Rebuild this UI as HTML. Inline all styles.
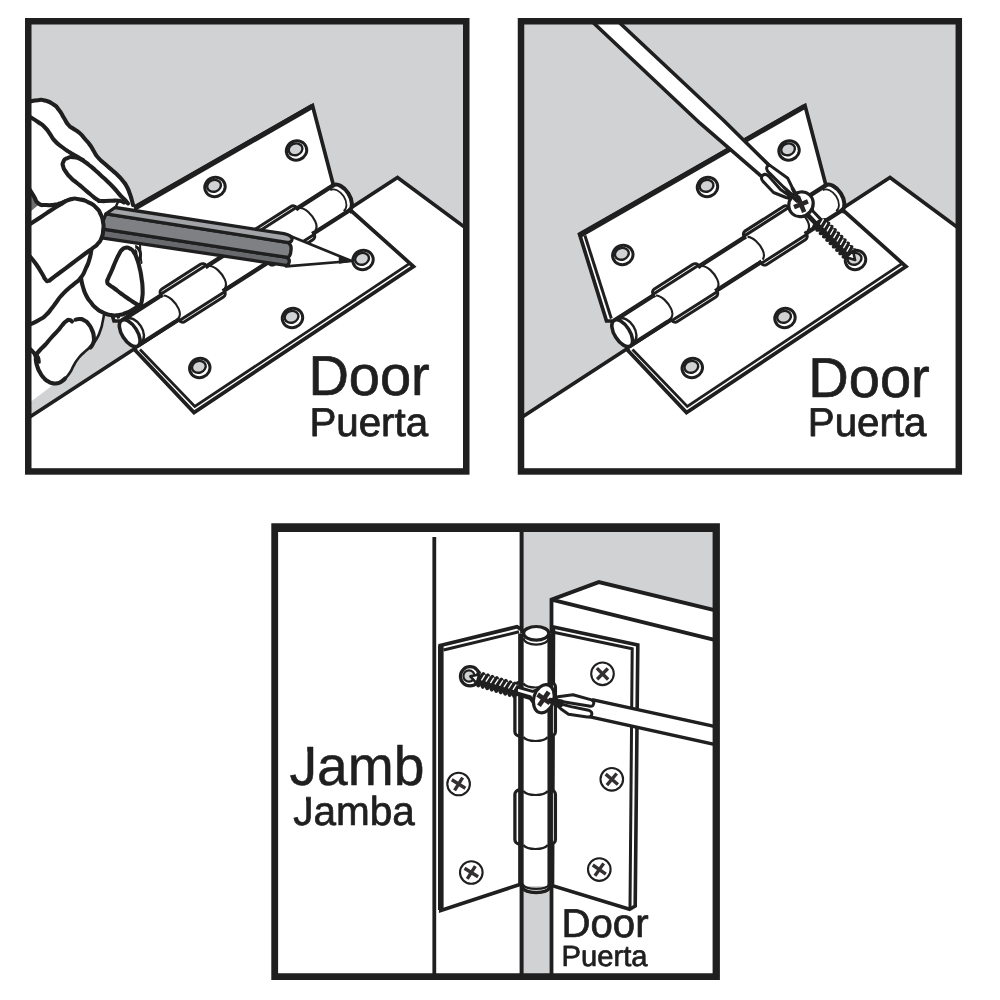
<!DOCTYPE html>
<html lang="en">
<head>
<meta charset="utf-8">
<title>Hinge installation</title>
<style>
html,body{margin:0;padding:0;background:#fff;}
body{width:1000px;height:1000px;overflow:hidden;}
svg{display:block;will-change:transform;}
text{font-family:"Liberation Sans",sans-serif;text-rendering:geometricPrecision;}
</style>
</head>
<body>
<svg width="1000" height="1000" viewBox="0 0 1000 1000">
<rect width="1000" height="1000" fill="#fff"/>
<clipPath id="c1"><rect x="28" y="21" width="438.5" height="450.5"/></clipPath>
<g clip-path="url(#c1)">
<rect x="25" y="18" width="445" height="457" fill="#d1d2d4"/>
<path d="M27.5 418.5 L397.5 177.5 L466.5 228.5 L466.5 472 L27.5 472Z" fill="#fff" stroke="#1f1f20" stroke-width="3.6" stroke-linejoin="miter"/>
<path d="M87 234 L312.5 105.5 L333.5 185.5 L332 187.5 L121 322.5 L114 321Z" fill="#fff"/>
<path d="M123.5 321 L114 321 L87 234 L312.5 105.5 L333.5 185.5 L332.5 187.5" fill="none" stroke="#1f1f20" stroke-width="3.7" stroke-linejoin="miter"/>
<path d="M88 235 L312 106.5" fill="none" stroke="#1f1f20" stroke-width="5"/>
<path d="M92.4 235.5 L118.8 318.5" fill="none" stroke="#1f1f20" stroke-width="3"/>
<path d="M135 350 L194 412.5 L413.5 266.5 L351.5 211Z" fill="#fff"/>
<path d="M136.5 348.5 L135 350 L194 412.5 L413.5 266.5 L351.5 211 L349.5 212" fill="none" stroke="#1f1f20" stroke-width="3.7" stroke-linejoin="miter"/>
<path d="M140 349.5 L194.8 406.5 L409 263.9" fill="none" stroke="#1f1f20" stroke-width="2.8"/>
<ellipse cx="130.3" cy="255" rx="10.3" ry="9.6" fill="#fff" stroke="#1f1f20" stroke-width="3" transform="rotate(-20 130.3 255)"/><ellipse cx="129.8" cy="253.6" rx="7" ry="5.8" fill="#d1d2d4" stroke="#1f1f20" stroke-width="2.4" transform="rotate(-20 130.3 255)"/>
<ellipse cx="215" cy="187" rx="10.3" ry="9.6" fill="#fff" stroke="#1f1f20" stroke-width="3" transform="rotate(-20 215 187)"/><ellipse cx="214.5" cy="185.6" rx="7" ry="5.8" fill="#d1d2d4" stroke="#1f1f20" stroke-width="2.4" transform="rotate(-20 215 187)"/>
<ellipse cx="296.5" cy="150.5" rx="10.3" ry="9.6" fill="#fff" stroke="#1f1f20" stroke-width="3" transform="rotate(-20 296.5 150.5)"/><ellipse cx="296" cy="149.1" rx="7" ry="5.8" fill="#d1d2d4" stroke="#1f1f20" stroke-width="2.4" transform="rotate(-20 296.5 150.5)"/>
<ellipse cx="199.8" cy="368" rx="10.3" ry="9.6" fill="#fff" stroke="#1f1f20" stroke-width="3" transform="rotate(-20 199.8 368)"/><ellipse cx="199.3" cy="366.6" rx="7" ry="5.8" fill="#d1d2d4" stroke="#1f1f20" stroke-width="2.4" transform="rotate(-20 199.8 368)"/>
<ellipse cx="292.5" cy="318" rx="10.3" ry="9.6" fill="#fff" stroke="#1f1f20" stroke-width="3" transform="rotate(-20 292.5 318)"/><ellipse cx="292" cy="316.6" rx="7" ry="5.8" fill="#d1d2d4" stroke="#1f1f20" stroke-width="2.4" transform="rotate(-20 292.5 318)"/>
<ellipse cx="363" cy="260" rx="10.3" ry="9.6" fill="#fff" stroke="#1f1f20" stroke-width="3" transform="rotate(-20 363 260)"/><ellipse cx="362.5" cy="258.6" rx="7" ry="5.8" fill="#d1d2d4" stroke="#1f1f20" stroke-width="2.4" transform="rotate(-20 363 260)"/>
<g transform="translate(129.7 333.2) rotate(-32.6)">
<path d="M0 -14.9 L252 -14.9 A8 14.9 0 0 1 252 14.9 L0 14.9 Z" fill="#fff" stroke="none"/>
<path d="M0 -14.9 L252 -14.9 M0 14.9 L252 14.9" fill="none" stroke="#1f1f20" stroke-width="4.4"/>
<rect x="46.9" y="-19.9" width="53.800000000000004" height="30" rx="4" ry="4" fill="#fff" stroke="#1f1f20" stroke-width="3"/>
<rect x="48.7" y="-10.1" width="53.8" height="30" rx="4" ry="4" fill="#fff" stroke="#1f1f20" stroke-width="3"/>
<rect x="44.4" y="-12.6" width="60.6" height="25.2" fill="#fff"/>
<rect x="48.6" y="-14.7" width="50.400000000000006" height="14.7" fill="#fff"/>
<rect x="50.400000000000006" y="0" width="50.4" height="14.7" fill="#fff"/>
<path d="M48.4 -16.15 L99.2 -16.15 M50.2 16.15 L101 16.15" fill="none" stroke="#1f1f20" stroke-width="3" stroke-linecap="round"/>
<rect x="154.8" y="-19.9" width="53.29999999999998" height="30" rx="4" ry="4" fill="#fff" stroke="#1f1f20" stroke-width="3"/>
<rect x="154.8" y="-10.1" width="53.89999999999998" height="30" rx="4" ry="4" fill="#fff" stroke="#1f1f20" stroke-width="3"/>
<rect x="152.3" y="-12.6" width="58.89999999999998" height="25.2" fill="#fff"/>
<rect x="156.5" y="-14.7" width="49.899999999999984" height="14.7" fill="#fff"/>
<rect x="156.5" y="0" width="50.49999999999998" height="14.7" fill="#fff"/>
<path d="M156.3 -16.15 L206.6 -16.15 M156.3 16.15 L207.2 16.15" fill="none" stroke="#1f1f20" stroke-width="3" stroke-linecap="round"/>
<path d="M48.8 -13.6 C53.3 -10.6 55.3 -1.5999999999999996 54.4 5.6 C53.8 10.6 51.8 12.6 49.3 13.6" fill="none" stroke="#1f1f20" stroke-width="2.1"/>
<path d="M103.5 -13.6 C108.0 -10.6 110.0 -1.5999999999999996 109.1 5.6 C108.5 10.6 106.5 12.6 104.0 13.6" fill="none" stroke="#1f1f20" stroke-width="2.1"/>
<path d="M157.5 -13.6 C162.0 -10.6 164.0 -1.5999999999999996 163.1 5.6 C162.5 10.6 160.5 12.6 158.0 13.6" fill="none" stroke="#1f1f20" stroke-width="2.1"/>
<path d="M211 -13.6 C215.5 -10.6 217.5 -1.5999999999999996 216.6 5.6 C216 10.6 214 12.6 211.5 13.6" fill="none" stroke="#1f1f20" stroke-width="2.1"/>
<path d="M251 -14.9 A8.5 14.9 0 0 1 251 14.9" fill="none" stroke="#1f1f20" stroke-width="4"/>
<path d="M246 -12.4 A8 12.4 0 0 1 246 12.4" fill="none" stroke="#1f1f20" stroke-width="1.8"/>
<path d="M5.2 -13.4 A8 13.4 0 0 1 5.2 13.4" fill="none" stroke="#1f1f20" stroke-width="2.4"/>
<ellipse cx="0" cy="0" rx="7.6" ry="15.1" fill="#fff" stroke="#1f1f20" stroke-width="3.6"/>
</g>
<path d="M30 101.6 L38 100.2 L45 100.6 L53.5 104.5 L59 110 L64 118 L68.5 125 L73 128.5 L79 132.5 L85 139 L90 145 L94 151.5 L98 157.5 L105 164 L112.5 170.5 L118 175.5 L123 181 L127 187 L129.5 193 L131.5 199 L133 205 L136 215 L135 254 L140 268 L142.6 288 L142 303 L134.5 309.5 L124 314 L111 315.3 L104.5 314 L102.5 322 L100 331 L96 340 L90 347 L84.5 352 L79 357.5 L74 365 L70 372.5 L64 380 L56 383.5 L50 386.5 L30 401.5 L30 101.6Z" fill="#fff"/>
<path d="M30 193 L39.5 204 L30 212Z" fill="#6d6e70"/>
<path d="M30 101.6 C32.67 101.13 33 100.53 38 100.2 C43 99.87 39.83 99.17 45 100.6 C50.17 102.03 48.83 101.37 53.5 104.5 C58.17 107.63 55.5 105.5 59 110 C62.5 114.5 60.83 113 64 118 C67.17 123 65.5 121.5 68.5 125 C71.5 128.5 69.5 126 73 128.5 C76.5 131 75 129 79 132.5 C83 136 81.33 134.83 85 139 C88.67 143.17 87 140.83 90 145 C93 149.17 91.33 147.33 94 151.5 C96.67 155.67 94.33 153.33 98 157.5 C101.67 161.67 100.17 159.67 105 164 C109.83 168.33 108.17 166.67 112.5 170.5 C116.83 174.33 114.5 172 118 175.5 C121.5 179 120 177.17 123 181 C126 184.83 124.83 183 127 187 C129.17 191 128 189 129.5 193 C131 197 130.33 195 131.5 199 C132.67 203 132.5 203 133 205" fill="none" stroke="#1f1f20" stroke-width="4.1" stroke-linecap="round" stroke-linejoin="round"/>
<path d="M30 117 C32.67 118.67 33 118.5 38 122 C43 125.5 41 123.5 45 127.5 C49 131.5 46.83 129.67 50 134 C53.17 138.33 50.5 136.17 54.5 140.5 C58.5 144.83 56.83 143 62 147 C67.17 151 65.33 149.5 70 152.5 C74.67 155.5 71.67 153.33 76 156 C80.33 158.67 78.67 157.5 83 160.5 C87.33 163.5 85 161.83 89 165 C93 168.17 91 166.5 95 170 C99 173.5 96.83 171.67 101 175.5 C105.17 179.33 103.17 177.33 107.5 181.5 C111.83 185.67 109.83 183.5 114 188 C118.17 192.5 116.67 191.33 120 195 C123.33 198.67 121.33 196.17 124 199 C126.67 201.83 126.67 202 128 203.5" fill="none" stroke="#1f1f20" stroke-width="4.1" stroke-linecap="round" stroke-linejoin="round"/>
<path d="M83 160 C80 159.1 79.33 157.87 74 157.3 C68.67 156.73 70.57 156.73 67 158.3 C63.43 159.87 64.57 159.27 63.3 162 C62.03 164.73 62.3 163.17 63.2 166.5 C64.1 169.83 63.4 168.17 66 172 C68.6 175.83 67.33 174.33 71 178 C74.67 181.67 73 179.67 77 183 C81 186.33 78.67 184.33 83 188 C87.33 191.67 85.33 190.17 90 194 C94.67 197.83 93.33 197.17 97 199.5 C100.67 201.83 96.67 200.57 101 201 C105.33 201.43 104 200.87 110 200.8 C116 200.73 114.33 200.23 119 200.8 C123.67 201.37 122.33 201.93 124 202.5" fill="none" stroke="#1f1f20" stroke-width="4.1" stroke-linecap="round" stroke-linejoin="round"/>
<path d="M118.5 201.5 C117.93 202.5 117.8 202.17 116.8 204.5 C115.8 206.83 115.93 207.17 115.5 208.5" fill="none" stroke="#1f1f20" stroke-width="2.4" stroke-linecap="round"/>
<path d="M30 190 C31.33 192.17 31.17 192 34 196.5 C36.83 201 34.5 200.67 38.5 203.5 C42.5 206.33 40.83 204.57 46 205 C51.17 205.43 49.33 205.3 54 204.8 C58.67 204.3 56.33 204.67 60 203.5 C63.67 202.33 61.67 202.7 65 201.3 C68.33 199.9 68.33 199.97 70 199.3" fill="none" stroke="#1f1f20" stroke-width="4.1" stroke-linecap="round"/>
<path d="M91.5 249 C90.83 252.33 91.33 252.67 89.5 259 C87.67 265.33 88.83 261.83 86 268 C83.17 274.17 85 272.17 81 277.5 C77 282.83 78.5 280 74 284 C69.5 288 71.83 285.5 67.5 289.5 C63.17 293.5 64.67 291.83 61 296 C57.33 300.17 59.5 298 56.5 302 C53.5 306 55.5 303.67 52 308 C48.5 312.33 50.33 311 46 315 C41.67 319 44.33 316.83 39 320 C33.67 323.17 33 323 30 324.5" fill="none" stroke="#1f1f20" stroke-width="4.1" stroke-linecap="round"/>
<path d="M81 278 C81.67 281 81.17 281 83 287 C84.83 293 83.83 290.83 86.5 296 C89.17 301.17 87.83 298.5 91 302.5 C94.17 306.5 92 304.67 96 308 C100 311.33 98 310.17 103 312.5 C108 314.83 105.67 314.17 111 315 C116.33 315.83 114 315.67 119 315 C124 314.33 121.33 314.83 126 313 C130.67 311.17 128.67 312 133 309.5 C137.33 307 137 306.83 139 305.5" fill="none" stroke="#1f1f20" stroke-width="4.1" stroke-linecap="round"/>
<path d="M104 314.5 C103.53 317 103.77 316.83 102.6 322 C101.43 327.17 102.53 324.33 100.5 330 C98.47 335.67 99.67 333.67 96.5 339 C93.33 344.33 95 341.67 91 346 C87 350.33 88.5 348.17 84.5 352 C80.5 355.83 82.5 353.17 79 357.5 C75.5 361.83 77 360 74 365 C71 370 73.17 367.67 70 372.5 C66.83 377.33 66.33 377.17 64.5 379.5" fill="none" stroke="#1f1f20" stroke-width="2.6" stroke-linecap="round"/>
<path d="M35.5 355.5 C37 353.67 36.83 353.5 40 350 C43.17 346.5 41.33 349 45 345 C48.67 341 46.83 342.67 51 338 C55.17 333.33 53.83 335.17 57.5 331 C61.17 326.83 59.17 328.73 62 325.5 C64.83 322.27 63.5 323.13 66 321.3 C68.5 319.47 67.5 319.93 69.5 320 C71.5 320.07 71.17 321 72 321.5" fill="none" stroke="#1f1f20" stroke-width="4.1" stroke-linecap="round"/>
<path d="M75.5 319.8 C77 319.53 77 318.77 80 319 C83 319.23 81.67 318.83 84.5 320.5 C87.33 322.17 86 320.83 88.5 324 C91 327.17 90.23 325.67 92 330 C93.77 334.33 93.4 332.67 93.8 337 C94.2 341.33 94.3 339.5 93.2 343 C92.1 346.5 91.4 346 90.5 347.5" fill="none" stroke="#1f1f20" stroke-width="4.1" stroke-linecap="round"/>
<path d="M30 349 C31 350 31.17 349.83 33 352 C34.83 354.17 34.5 352.5 35.5 355.5 C36.5 358.5 35.33 357.17 36 361 C36.67 364.83 36.17 363.17 37.5 367 C38.83 370.83 38 369 40 372.5 C42 376 41 374.67 43.5 377.5 C46 380.33 44.67 379.17 47.5 381 C50.33 382.83 48.83 382.23 52 383 C55.17 383.77 53.83 383.8 57 383.3 C60.17 382.8 58.83 383.1 61.5 381.5 C64.17 379.9 63.83 379.5 65 378.5" fill="none" stroke="#1f1f20" stroke-width="4.1" stroke-linecap="round"/>
<path d="M35.5 355.5 C36.33 356 36.83 354.83 38 357 C39.17 359.17 38.67 360.33 39 362" fill="none" stroke="#1f1f20" stroke-width="3.6" stroke-linecap="round"/>
<path d="M30 401.5 L50 386.5" fill="none" stroke="#fff" stroke-width="1.2"/>
<path d="M139 305.5 C137.33 304.5 137.67 304.83 134 302.5 C130.33 300.17 132.33 301.5 128 298.5 C123.67 295.5 125.5 296.83 121 293.5 C116.5 290.17 118.33 291.33 114.5 288.5 C110.67 285.67 111.9 287.17 109.5 285 C107.1 282.83 107.6 284.5 107.3 282 C107 279.5 107.03 281.5 108.6 277.5 C110.17 273.5 109.7 275.33 112 270 C114.3 264.67 113.17 266.77 115.5 261.5 C117.83 256.23 116.83 258.1 119 254.2 C121.17 250.3 119.83 251.93 122 249.8 C124.17 247.67 122.83 248.2 125.5 247.8 C128.17 247.4 127.17 247.03 130 248.6 C132.83 250.17 131.67 249.03 134 252.5 C136.33 255.97 135.17 254 137 259 C138.83 264 138 261.17 139.5 267.5 C141 273.83 140.47 270.83 141.5 278 C142.53 285.17 142.37 282.33 142.6 289 C142.83 295.67 142.73 292.83 142.2 298 C141.67 303.17 141.4 302.33 141 304.5" fill="#fff" stroke="#1f1f20" stroke-width="4.1" stroke-linecap="round" stroke-linejoin="round"/>
<path d="M139.5 239 C139.73 242 139.83 242.33 140.2 248 C140.57 253.67 140.17 251 140.6 256 C141.03 261 141.2 260.67 141.5 263" fill="none" stroke="#1f1f20" stroke-width="2" stroke-linecap="round"/>
<path d="M289 235.5 L351.5 261 L286 266.4 Z" fill="#fff" stroke="#1f1f20" stroke-width="2.7" stroke-linejoin="round"/>
<path d="M339.5 256.6 L352 261 L339.5 263 Z" fill="#1f1f20" stroke="#1f1f20" stroke-width="1.5" stroke-linejoin="round"/>
<path d="M100 228.7 L286 257.2 Q289.9 258.6 289.2 262 Q288.6 265.2 286 265.3 L105 238.4 L97 237.2 Z" fill="#68696c" stroke="#1f1f20" stroke-width="3.3" stroke-linejoin="round"/>
<path d="M106 213.8 L287 242.3 Q291.9 244.4 291 250 Q290.6 255 289.2 256.4 Q288 257.5 286 257.2 L100 228.7 Z" fill="#7f8083" stroke="#1f1f20" stroke-width="3.3" stroke-linejoin="round"/>
<path d="M115 207.5 L284 233.7 Q292.6 235.6 292 239.6 Q291.2 242.9 287 242.3 L106 213.8 Z" fill="#a3a4a7" stroke="#1f1f20" stroke-width="3.3" stroke-linejoin="round"/>
<path d="M30 224 C33.67 221.67 34 221.57 41 217 C48 212.43 44.67 214.43 51 210.3 C57.33 206.17 53.67 208.17 60 204.6 C66.33 201.03 63.67 201.37 70 199.6 C76.33 197.83 72.83 198.4 79 199.3 C85.17 200.2 82.83 199.57 88.5 202.3 C94.17 205.03 92 203.6 96 207.5 C100 211.4 98.17 209.17 100.5 214 C102.83 218.83 102.1 216.67 103 222 C103.9 227.33 103.7 224.67 103.2 230 C102.7 235.33 103.23 233.5 101.5 238 C99.77 242.5 100.67 240.33 98 243.5 C95.33 246.67 98.17 243.83 93.5 247.5 C88.83 251.17 91.17 249.17 84 254.5 C76.83 259.83 80 257.5 72 263.5 C64 269.5 66.67 267.5 60 272.5 C53.33 277.5 55.83 275.73 52 278.5 C48.17 281.27 50.67 280.47 48.5 280.8 C46.33 281.13 47.67 281.93 45.5 279.5 C43.33 277.07 45.17 278.67 42 273.5 C38.83 268.33 40 269.67 36 264 C32 258.33 32 259 30 256.5" fill="#fff" stroke="#1f1f20" stroke-width="4.1" stroke-linecap="round" stroke-linejoin="round"/>
</g>
<text x="308.4" y="395.1" font-size="56" fill="#1f1f20" stroke="#1f1f20" stroke-width="0.7" stroke-linejoin="round" text-anchor="start" >Door</text>
<text x="309.4" y="436.1" font-size="40.3" fill="#1f1f20" stroke="#1f1f20" stroke-width="0.8" stroke-linejoin="round" text-anchor="start" >Puerta</text>
<rect x="28.25" y="21.25" width="438" height="450.2" fill="none" stroke="#1f1f20" stroke-width="6.5"/>
<clipPath id="c2"><rect x="520.5" y="21" width="438.5" height="450.5"/></clipPath>
<g clip-path="url(#c2)">
<rect x="517" y="18" width="445" height="457" fill="#d1d2d4"/>
<path d="M520 418.5 L890 177.5 L959 228.5 L959 472 L520 472Z" fill="#fff" stroke="#1f1f20" stroke-width="3.6" stroke-linejoin="miter"/>
<path d="M579.5 234 L805 105.5 L826 185.5 L824.5 187.5 L613.5 322.5 L606.5 321Z" fill="#fff"/>
<path d="M616 321 L606.5 321 L579.5 234 L805 105.5 L826 185.5 L825 187.5" fill="none" stroke="#1f1f20" stroke-width="3.7" stroke-linejoin="miter"/>
<path d="M580.5 235 L804.5 106.5" fill="none" stroke="#1f1f20" stroke-width="5"/>
<path d="M584.9 235.5 L611.3 318.5" fill="none" stroke="#1f1f20" stroke-width="3"/>
<path d="M627.5 350 L686.5 412.5 L906 266.5 L844 211Z" fill="#fff"/>
<path d="M629 348.5 L627.5 350 L686.5 412.5 L906 266.5 L844 211 L842 212" fill="none" stroke="#1f1f20" stroke-width="3.7" stroke-linejoin="miter"/>
<path d="M632.5 349.5 L687.3 406.5 L901.5 263.9" fill="none" stroke="#1f1f20" stroke-width="2.8"/>
<ellipse cx="622.8" cy="255" rx="10.3" ry="9.6" fill="#fff" stroke="#1f1f20" stroke-width="3" transform="rotate(-20 622.8 255)"/><ellipse cx="622.3" cy="253.6" rx="7" ry="5.8" fill="#d1d2d4" stroke="#1f1f20" stroke-width="2.4" transform="rotate(-20 622.8 255)"/>
<ellipse cx="707.5" cy="187" rx="10.3" ry="9.6" fill="#fff" stroke="#1f1f20" stroke-width="3" transform="rotate(-20 707.5 187)"/><ellipse cx="707" cy="185.6" rx="7" ry="5.8" fill="#d1d2d4" stroke="#1f1f20" stroke-width="2.4" transform="rotate(-20 707.5 187)"/>
<ellipse cx="789" cy="150.5" rx="10.3" ry="9.6" fill="#fff" stroke="#1f1f20" stroke-width="3" transform="rotate(-20 789 150.5)"/><ellipse cx="788.5" cy="149.1" rx="7" ry="5.8" fill="#d1d2d4" stroke="#1f1f20" stroke-width="2.4" transform="rotate(-20 789 150.5)"/>
<ellipse cx="692.3" cy="368" rx="10.3" ry="9.6" fill="#fff" stroke="#1f1f20" stroke-width="3" transform="rotate(-20 692.3 368)"/><ellipse cx="691.8" cy="366.6" rx="7" ry="5.8" fill="#d1d2d4" stroke="#1f1f20" stroke-width="2.4" transform="rotate(-20 692.3 368)"/>
<ellipse cx="785" cy="318" rx="10.3" ry="9.6" fill="#fff" stroke="#1f1f20" stroke-width="3" transform="rotate(-20 785 318)"/><ellipse cx="784.5" cy="316.6" rx="7" ry="5.8" fill="#d1d2d4" stroke="#1f1f20" stroke-width="2.4" transform="rotate(-20 785 318)"/>
<ellipse cx="855.5" cy="260" rx="10.3" ry="9.6" fill="#fff" stroke="#1f1f20" stroke-width="3" transform="rotate(-20 855.5 260)"/><ellipse cx="855" cy="258.6" rx="7" ry="5.8" fill="#d1d2d4" stroke="#1f1f20" stroke-width="2.4" transform="rotate(-20 855.5 260)"/>
<g transform="translate(622.2 333.2) rotate(-32.6)">
<path d="M0 -14.9 L252 -14.9 A8 14.9 0 0 1 252 14.9 L0 14.9 Z" fill="#fff" stroke="none"/>
<path d="M0 -14.9 L252 -14.9 M0 14.9 L252 14.9" fill="none" stroke="#1f1f20" stroke-width="4.4"/>
<rect x="46.9" y="-19.9" width="53.800000000000004" height="30" rx="4" ry="4" fill="#fff" stroke="#1f1f20" stroke-width="3"/>
<rect x="48.7" y="-10.1" width="53.8" height="30" rx="4" ry="4" fill="#fff" stroke="#1f1f20" stroke-width="3"/>
<rect x="44.4" y="-12.6" width="60.6" height="25.2" fill="#fff"/>
<rect x="48.6" y="-14.7" width="50.400000000000006" height="14.7" fill="#fff"/>
<rect x="50.400000000000006" y="0" width="50.4" height="14.7" fill="#fff"/>
<path d="M48.4 -16.15 L99.2 -16.15 M50.2 16.15 L101 16.15" fill="none" stroke="#1f1f20" stroke-width="3" stroke-linecap="round"/>
<rect x="154.8" y="-19.9" width="53.29999999999998" height="30" rx="4" ry="4" fill="#fff" stroke="#1f1f20" stroke-width="3"/>
<rect x="154.8" y="-10.1" width="53.89999999999998" height="30" rx="4" ry="4" fill="#fff" stroke="#1f1f20" stroke-width="3"/>
<rect x="152.3" y="-12.6" width="58.89999999999998" height="25.2" fill="#fff"/>
<rect x="156.5" y="-14.7" width="49.899999999999984" height="14.7" fill="#fff"/>
<rect x="156.5" y="0" width="50.49999999999998" height="14.7" fill="#fff"/>
<path d="M156.3 -16.15 L206.6 -16.15 M156.3 16.15 L207.2 16.15" fill="none" stroke="#1f1f20" stroke-width="3" stroke-linecap="round"/>
<path d="M48.8 -13.6 C53.3 -10.6 55.3 -1.5999999999999996 54.4 5.6 C53.8 10.6 51.8 12.6 49.3 13.6" fill="none" stroke="#1f1f20" stroke-width="2.1"/>
<path d="M103.5 -13.6 C108.0 -10.6 110.0 -1.5999999999999996 109.1 5.6 C108.5 10.6 106.5 12.6 104.0 13.6" fill="none" stroke="#1f1f20" stroke-width="2.1"/>
<path d="M157.5 -13.6 C162.0 -10.6 164.0 -1.5999999999999996 163.1 5.6 C162.5 10.6 160.5 12.6 158.0 13.6" fill="none" stroke="#1f1f20" stroke-width="2.1"/>
<path d="M211 -13.6 C215.5 -10.6 217.5 -1.5999999999999996 216.6 5.6 C216 10.6 214 12.6 211.5 13.6" fill="none" stroke="#1f1f20" stroke-width="2.1"/>
<path d="M251 -14.9 A8.5 14.9 0 0 1 251 14.9" fill="none" stroke="#1f1f20" stroke-width="4"/>
<path d="M246 -12.4 A8 12.4 0 0 1 246 12.4" fill="none" stroke="#1f1f20" stroke-width="1.8"/>
<path d="M5.2 -13.4 A8 13.4 0 0 1 5.2 13.4" fill="none" stroke="#1f1f20" stroke-width="2.4"/>
<ellipse cx="0" cy="0" rx="7.6" ry="15.1" fill="#fff" stroke="#1f1f20" stroke-width="3.6"/>
</g>
<path d="M590.4 20 L616.6 20 L723.2 120 L769.5 165.6 L761.2 176.2 L700 123.2Z" fill="#fff"/>
<path d="M616.6 20 L723.2 120 L769.5 165.6M590.4 20 L700 123.2 L761.2 176.2" fill="none" stroke="#1f1f20" stroke-width="3.6" stroke-linejoin="round"/>
<path d="M761 176.5 L773.5 192.5 L786 197.5 L797 201 L797.5 198 L788 178 L769.5 165 Z" fill="#fff"/>
<path d="M797 198.8 L791.5 186 L787.8 178.3 L770.3 165.6 Q766.6 165 766.6 168.6 Q766.8 171 769.8 173.4 L783.5 187 Z" fill="#fff" stroke="#1f1f20" stroke-width="3" stroke-linejoin="round"/>
<path d="M795.5 200 L780.5 189.5 L768.6 176 Q765 173 762.3 175.6 Q760.4 178.2 763 181.4 L773.5 192.5 L786 197.5 Z" fill="#fff" stroke="#1f1f20" stroke-width="3" stroke-linejoin="round"/>
<g transform="translate(801 204.3) rotate(45.63)">
<path d="M1 -12 Q8 -7 13 -3.8 L25 -3.6 L25 3.6 L13 3.8 Q8 7 1 12 Z" fill="#fff" stroke="#1f1f20" stroke-width="3" stroke-linejoin="round"/>
<path d="M6 7 Q10 4.4 14 3.4 L25 3.2 L25 0.6 L13 0.4 Z" fill="#1f1f20" stroke="none"/>
<ellipse cx="26.5" cy="0" rx="3.4" ry="8.5" fill="#1f1f20" transform="rotate(14 26.5 0)"/>
<ellipse cx="31.2" cy="0" rx="3.4" ry="8.5" fill="#1f1f20" transform="rotate(14 31.2 0)"/>
<ellipse cx="35.9" cy="0" rx="3.4" ry="8.5" fill="#1f1f20" transform="rotate(14 35.9 0)"/>
<ellipse cx="40.6" cy="0" rx="3.4" ry="8.5" fill="#1f1f20" transform="rotate(14 40.6 0)"/>
<ellipse cx="45.3" cy="0" rx="3.4" ry="8.5" fill="#1f1f20" transform="rotate(14 45.3 0)"/>
<ellipse cx="50" cy="0" rx="3.4" ry="8.5" fill="#1f1f20" transform="rotate(14 50 0)"/>
<ellipse cx="54.7" cy="0" rx="3.4" ry="8.5" fill="#1f1f20" transform="rotate(14 54.7 0)"/>
<ellipse cx="59.4" cy="0" rx="3.4" ry="8.5" fill="#1f1f20" transform="rotate(14 59.4 0)"/>
<ellipse cx="64.1" cy="0" rx="3.4" ry="8.5" fill="#1f1f20" transform="rotate(14 64.1 0)"/>
<ellipse cx="68.8" cy="0" rx="3.4" ry="8.5" fill="#1f1f20" transform="rotate(14 68.8 0)"/>
<path d="M28 -0.2 L26.6 -5.2" stroke="#fff" stroke-width="1.35" stroke-linecap="round" fill="none"/>
<path d="M32.7 -0.2 L31.3 -5.2" stroke="#fff" stroke-width="1.35" stroke-linecap="round" fill="none"/>
<path d="M37.4 -0.2 L36 -5.2" stroke="#fff" stroke-width="1.35" stroke-linecap="round" fill="none"/>
<path d="M42.1 -0.2 L40.7 -5.2" stroke="#fff" stroke-width="1.35" stroke-linecap="round" fill="none"/>
<path d="M46.8 -0.2 L45.4 -5.2" stroke="#fff" stroke-width="1.35" stroke-linecap="round" fill="none"/>
<path d="M51.5 -0.2 L50.1 -5.2" stroke="#fff" stroke-width="1.35" stroke-linecap="round" fill="none"/>
<path d="M56.2 -0.2 L54.8 -5.2" stroke="#fff" stroke-width="1.35" stroke-linecap="round" fill="none"/>
<path d="M60.9 -0.2 L59.5 -5.2" stroke="#fff" stroke-width="1.35" stroke-linecap="round" fill="none"/>
<path d="M65.6 -0.2 L64.2 -5.2" stroke="#fff" stroke-width="1.35" stroke-linecap="round" fill="none"/>
<path d="M70.3 -0.2 L68.9 -5.2" stroke="#fff" stroke-width="1.35" stroke-linecap="round" fill="none"/>
<path d="M69.64 -4.6 L77.64 0.3 L69.64 4.6 Z" fill="#fff" stroke="#1f1f20" stroke-width="2.6" stroke-linejoin="round"/>
</g>
<ellipse cx="801" cy="204.3" rx="11.8" ry="12.8" fill="#fff" stroke="#1f1f20" stroke-width="3.2" transform="rotate(40 801 204.3)"/>
<g transform="translate(801 204.3) rotate(-22)" stroke="#2a2627" stroke-width="4.6" stroke-linecap="butt" fill="none"><path d="M-7.5 0 L7.5 0 M0 -8.5 L0 8.5"/></g>
<path d="M797 201 L787 191.5 M799 199.5 L792.5 188.5" fill="none" stroke="#1f1f20" stroke-width="3.6" stroke-linecap="round"/>
</g>
<text x="808.3" y="396.8" font-size="56" fill="#1f1f20" stroke="#1f1f20" stroke-width="0.7" stroke-linejoin="round" text-anchor="start" >Door</text>
<text x="807.8" y="436.1" font-size="40.3" fill="#1f1f20" stroke="#1f1f20" stroke-width="0.8" stroke-linejoin="round" text-anchor="start" >Puerta</text>
<rect x="521" y="21.25" width="437.8" height="450.2" fill="none" stroke="#1f1f20" stroke-width="6.5"/>
<clipPath id="c3"><rect x="275" y="528" width="441" height="449"/></clipPath>
<g clip-path="url(#c3)">
<rect x="272" y="524" width="448" height="456" fill="#fff"/>
<rect x="522" y="524" width="200" height="456" fill="#d1d2d4"/>
<path d="M551.5 599.6 L598.8 582.1 L718 611 L718 980 L551.5 980Z" fill="#fff"/>
<path d="M551.5 980 L551.5 599.6 L598.8 582.1 L718 611" fill="none" stroke="#1f1f20" stroke-width="3.8" stroke-linejoin="miter"/>
<path d="M551.5 599.6 L718 640.8" fill="none" stroke="#1f1f20" stroke-width="3.8"/>
<path d="M434.3 537 L434.3 980" fill="none" stroke="#1f1f20" stroke-width="3.8"/>
<path d="M521.6 527 L521.6 980" fill="none" stroke="#1f1f20" stroke-width="4"/>
<path d="M440.2 645.5 L517 626.8 L522 630 L522 884 L517.5 885.3 L440.8 910.5Z" fill="#fff" stroke="#1f1f20" stroke-width="3.7" stroke-linejoin="miter"/>
<path d="M440.8 645.5 L440.8 910" fill="none" stroke="#1f1f20" stroke-width="5.6"/>
<path d="M443.5 650 L519 631.8" fill="none" stroke="#1f1f20" stroke-width="3"/>
<path d="M553.5 627 L637.8 645 L635.2 906 L629.6 909.2 L552.5 885.6Z" fill="#fff" stroke="#1f1f20" stroke-width="3.6" stroke-linejoin="miter"/>
<path d="M553.5 632.3 L632.2 648.8 L630 908.5" fill="none" stroke="#1f1f20" stroke-width="3" stroke-linejoin="miter"/>
<circle cx="458.6" cy="784" r="11.3" fill="#fff" stroke="#1f1f20" stroke-width="2.1"/><g transform="translate(458.6 784) rotate(32)" stroke="#343031" stroke-width="3.4" fill="none"><path d="M-8 0 L8 0 M0 -7.6 L0 7.6"/></g>
<circle cx="471.3" cy="872.5" r="11.3" fill="#fff" stroke="#1f1f20" stroke-width="2.1"/><g transform="translate(471.3 872.5) rotate(32)" stroke="#343031" stroke-width="3.4" fill="none"><path d="M-8 0 L8 0 M0 -7.6 L0 7.6"/></g>
<circle cx="602.5" cy="673.8" r="11.3" fill="#fff" stroke="#1f1f20" stroke-width="2.1"/><g transform="translate(602.5 673.8) rotate(45)" stroke="#343031" stroke-width="3.4" fill="none"><path d="M-8 0 L8 0 M0 -7.6 L0 7.6"/></g>
<circle cx="611.8" cy="779.3" r="11.3" fill="#fff" stroke="#1f1f20" stroke-width="2.1"/><g transform="translate(611.8 779.3) rotate(40)" stroke="#343031" stroke-width="3.4" fill="none"><path d="M-8 0 L8 0 M0 -7.6 L0 7.6"/></g>
<circle cx="599.3" cy="869.6" r="11.3" fill="#fff" stroke="#1f1f20" stroke-width="2.1"/><g transform="translate(599.3 869.6) rotate(35)" stroke="#343031" stroke-width="3.4" fill="none"><path d="M-8 0 L8 0 M0 -7.6 L0 7.6"/></g>
<ellipse cx="470" cy="676.3" rx="9.6" ry="9.6" fill="#fff" stroke="#1f1f20" stroke-width="3.2"/>
<ellipse cx="469" cy="676" rx="5.6" ry="5.6" fill="#d1d2d4" stroke="#1f1f20" stroke-width="2.2"/>
<rect x="522" y="633.5" width="29.200000000000045" height="252.5" fill="#fff"/>
<rect x="514.9" y="682.5" width="40.5" height="53.5" rx="4.5" ry="4.5" fill="#fff" stroke="#1f1f20" stroke-width="3.3"/>
<rect x="514.9" y="790.0" width="40.5" height="54.0" rx="4.5" ry="4.5" fill="#fff" stroke="#1f1f20" stroke-width="3.3"/>
<rect x="520" y="633.5" width="30" height="252.5" fill="#fff"/>
<path d="M520.9 633.5 L520.9 886M550.2 633.5 L550.2 886" fill="none" stroke="#1f1f20" stroke-width="5.5"/>
<path d="M523.3 683.5 A13 6 0 0 0 547.8 683.5" fill="none" stroke="#1f1f20" stroke-width="2.2"/>
<path d="M523.3 737.0 A13 6 0 0 0 547.8 737.0" fill="none" stroke="#1f1f20" stroke-width="2.2"/>
<path d="M523.3 791.0 A13 6 0 0 0 547.8 791.0" fill="none" stroke="#1f1f20" stroke-width="2.2"/>
<path d="M523.3 845.0 A13 6 0 0 0 547.8 845.0" fill="none" stroke="#1f1f20" stroke-width="2.2"/>
<path d="M522.5 884 A14 6.5 0 0 0 549.7 884 L549.7 888 A14 6 0 0 1 522.5 888 Z" fill="#fff" stroke="#1f1f20" stroke-width="2.2"/>
<path d="M522.5 887.5 A14 6.5 0 0 0 549.7 887.5" fill="none" stroke="#1f1f20" stroke-width="3.4"/>
<path d="M523.5 638 A12.6 6.6 0 0 0 548.7 638" fill="none" stroke="#1f1f20" stroke-width="2.2"/>
<ellipse cx="536.2" cy="633.3" rx="12.6" ry="6.8" fill="#fff" stroke="#1f1f20" stroke-width="3.2"/>
<path d="M592 699.6 L720 727.6 L720 745.6 L589 716.6Z" fill="#fff"/>
<path d="M592 699.6 L720 727.6M589 716.6 L720 745.6" fill="none" stroke="#1f1f20" stroke-width="3.4"/>
<path d="M592 700 L573 694.8 L557 696.8 L552 700.5 L555 704.5 L561 709 L568.5 714.2 L589.5 717 Z" fill="#fff"/>
<path d="M553 700 L558 696.8 L573 694.8 L591.5 699.9 Q595.4 702.2 592.8 705.6 Q591.5 706.6 589 706 L572 703.3 Z" fill="#fff" stroke="#1f1f20" stroke-width="3" stroke-linejoin="round"/>
<path d="M553.5 702 L571 706.6 L588.5 710.2 Q593 711.8 591.6 715 Q590.6 717.6 587.2 716.9 L568.5 714.2 L561 709 Z" fill="#fff" stroke="#1f1f20" stroke-width="3" stroke-linejoin="round"/>
<g transform="translate(543.8 698.8) rotate(-163.19)">
<path d="M1 -12 Q8 -7 13 -3.8 L29 -3.6 L29 3.6 L13 3.8 Q8 7 1 12 Z" fill="#fff" stroke="#1f1f20" stroke-width="3" stroke-linejoin="round"/>
<path d="M6 -7 Q10 -4.4 14 -3.4 L29 -3.2 L29 -0.6 L13 -0.4 Z" fill="#1f1f20" stroke="none"/>
<ellipse cx="30.5" cy="0" rx="3.4" ry="8.5" fill="#1f1f20" transform="rotate(-14 30.5 0)"/>
<ellipse cx="35.2" cy="0" rx="3.4" ry="8.5" fill="#1f1f20" transform="rotate(-14 35.2 0)"/>
<ellipse cx="39.9" cy="0" rx="3.4" ry="8.5" fill="#1f1f20" transform="rotate(-14 39.9 0)"/>
<ellipse cx="44.6" cy="0" rx="3.4" ry="8.5" fill="#1f1f20" transform="rotate(-14 44.6 0)"/>
<ellipse cx="49.3" cy="0" rx="3.4" ry="8.5" fill="#1f1f20" transform="rotate(-14 49.3 0)"/>
<ellipse cx="54" cy="0" rx="3.4" ry="8.5" fill="#1f1f20" transform="rotate(-14 54 0)"/>
<ellipse cx="58.7" cy="0" rx="3.4" ry="8.5" fill="#1f1f20" transform="rotate(-14 58.7 0)"/>
<ellipse cx="63.4" cy="0" rx="3.4" ry="8.5" fill="#1f1f20" transform="rotate(-14 63.4 0)"/>
<ellipse cx="68.1" cy="0" rx="3.4" ry="8.5" fill="#1f1f20" transform="rotate(-14 68.1 0)"/>
<path d="M32 0.2 L30.6 5.2" stroke="#fff" stroke-width="1.35" stroke-linecap="round" fill="none"/>
<path d="M36.7 0.2 L35.3 5.2" stroke="#fff" stroke-width="1.35" stroke-linecap="round" fill="none"/>
<path d="M41.4 0.2 L40 5.2" stroke="#fff" stroke-width="1.35" stroke-linecap="round" fill="none"/>
<path d="M46.1 0.2 L44.7 5.2" stroke="#fff" stroke-width="1.35" stroke-linecap="round" fill="none"/>
<path d="M50.8 0.2 L49.4 5.2" stroke="#fff" stroke-width="1.35" stroke-linecap="round" fill="none"/>
<path d="M55.5 0.2 L54.1 5.2" stroke="#fff" stroke-width="1.35" stroke-linecap="round" fill="none"/>
<path d="M60.2 0.2 L58.8 5.2" stroke="#fff" stroke-width="1.35" stroke-linecap="round" fill="none"/>
<path d="M64.9 0.2 L63.5 5.2" stroke="#fff" stroke-width="1.35" stroke-linecap="round" fill="none"/>
<path d="M69.6 0.2 L68.2 5.2" stroke="#fff" stroke-width="1.35" stroke-linecap="round" fill="none"/>
<path d="M68.78 -4.6 L76.78 0.3 L68.78 4.6 Z" fill="#fff" stroke="#1f1f20" stroke-width="2.6" stroke-linejoin="round"/>
</g>
<ellipse cx="543.8" cy="698.8" rx="10" ry="14.4" fill="#fff" stroke="#1f1f20" stroke-width="3.2" transform="rotate(17 543.8 698.8)"/>
<g transform="translate(543.8 698.8) rotate(35)" stroke="#2a2627" stroke-width="4.6" stroke-linecap="butt" fill="none"><path d="M-7.5 0 L7.5 0 M0 -8.5 L0 8.5"/></g>
<path d="M550 699.6 L562 701.2 M551 702 L561 705.5" fill="none" stroke="#1f1f20" stroke-width="3.6" stroke-linecap="round"/>
</g>
<text x="289.4" y="784.9" font-size="55.2" fill="#1f1f20" stroke="#1f1f20" stroke-width="0.5" stroke-linejoin="round" text-anchor="start" >Jamb</text>
<text x="293.2" y="824.9" font-size="40.5" fill="#1f1f20" stroke="#1f1f20" stroke-width="0.7" stroke-linejoin="round" text-anchor="start" >Jamba</text>
<rect x="298.2" y="743.9" width="9" height="8.8" fill="#fff"/>
<rect x="299.6" y="795" width="6.4" height="7" fill="#fff"/>
<text x="561.5" y="937" font-size="40.2" fill="#1f1f20" stroke="#1f1f20" stroke-width="0.7" stroke-linejoin="round" text-anchor="start" >Door</text>
<text x="561.5" y="966.3" font-size="29.2" fill="#1f1f20" stroke="#1f1f20" stroke-width="0.7" stroke-linejoin="round" text-anchor="start" >Puerta</text>
<path d="M271.3 523.2 H719.9 V979.9 H271.3 Z M278.1 532 V973.3 H712.6 V532 Z" fill="#1f1f20" fill-rule="evenodd"/>
</svg>
</body>
</html>
